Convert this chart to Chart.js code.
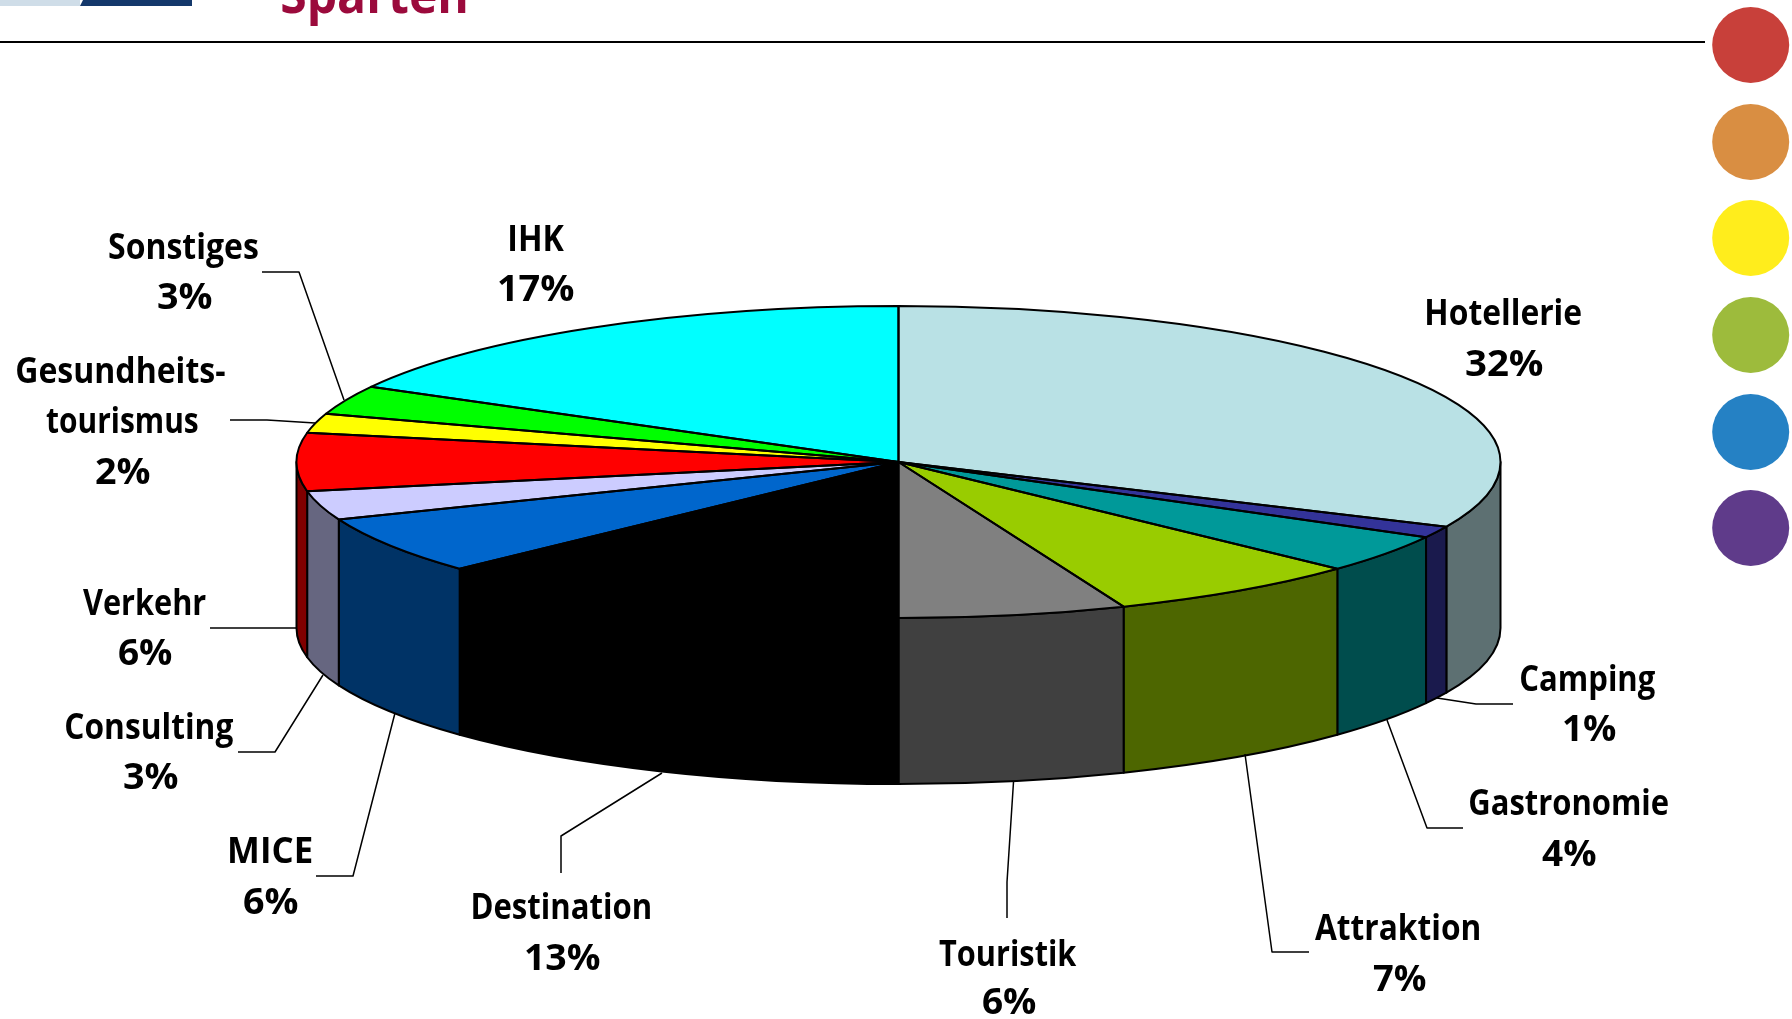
<!DOCTYPE html>
<html><head><meta charset="utf-8">
<style>html,body{margin:0;padding:0;background:#fff}canvas{display:block}</style>
<script src="https://cdn.jsdelivr.net/npm/chart.js@4"></script>
</head><body>
<canvas id="c" width="1792" height="1019"></canvas>
<script>
const categories = ['Hotellerie','Camping','Gastronomie','Attraktion','Touristik','Destination','MICE','Consulting','Verkehr','Gesundheitstourismus','Sonstiges','IHK'];
const shares = [31.8,1.2,4,6.9,6.1,13,6,3,6,2,3,17];
const labelLines = [['Hotellerie'],['Camping'],['Gastronomie'],['Attraktion'],['Touristik'],['Destination'],['MICE'],['Consulting'],['Verkehr'],['Gesundheits-','tourismus'],['Sonstiges'],['IHK']];
const topColors = ['#B9E1E5','#333399','#009999','#99CC00','#808080','#000000','#0066CC','#CCCCFF','#FF0000','#FFFF00','#00FF00','#00FFFF'];
const sideColors = ['#5D7072','#1A1A4D','#004D4D','#4D6600','#404040','#000000','#003366','#666680','#800000','#808000','#008000','#008080'];
const dotColors = ['#C8403A','#D98E42','#FFED1C','#9DBB3C','#2581C4','#5F3B8A'];
const dotCentersY = [45,142,238,335,432,528];
// [left,right,baseline] for each text line; the last line is the percentage
const labelBoxes = [
 [[1427,1581,325],[1466,1543,376]],
 [[1521,1655,691],[1564,1616,741]],
 [[1470,1668,815],[1542,1596,866]],
 [[1315,1479,940],[1373,1426,991]],
 [[939,1077,966],[983,1036,1014]],
 [[473,650,919],[526,600,970]],
 [[230,312,863],[244,298,914]],
 [[66,233,739],[124,178,789]],
 [[83,206,615],[119,172,665]],
 [[17,225,383],[46,198,433],[96,150,484]],
 [[109,258,259],[158,212,309]],
 [[510,564,251],[499,574,301]]
];
const leaders = [
 [[1513,704],[1476,704],[1437,698]],
 [[1463,828],[1427,828],[1387,720]],
 [[1309,952],[1272,952],[1245,754]],
 [[1007,918],[1007,882],[1013.5,782]],
 [[561,873],[561,836],[662,773]],
 [[316,876],[353,876],[395,713]],
 [[238,752],[275,752],[323,675]],
 [[210,628],[297,628]],
 [[230,420],[267,420],[315,423]],
 [[262,272],[299,272],[344,400]]
];
const tilt = 156/602, wallDepth = 166;
const labelFont = '700 36px "Open Sans"';

function arcs(chart){ return chart.getDatasetMeta(0).data; }

const pie3d = {
  id:'pie3d',
  beforeDatasetsDraw(chart){
    const ctx = chart.ctx;
    // page furniture
    ctx.save();
    ctx.fillStyle='#CFDDE8'; ctx.fillRect(0,0,80,6);
    ctx.fillStyle='#14386B';
    ctx.beginPath(); ctx.moveTo(83,0); ctx.lineTo(192,0); ctx.lineTo(192,6); ctx.lineTo(80,6); ctx.closePath(); ctx.fill();
    ctx.fillStyle='#9B0A3C'; ctx.font='700 52px "Open Sans"'; ctx.textBaseline='alphabetic';
    drawFit(ctx,'Sparten',282,466,13);
    ctx.fillStyle='#000'; ctx.fillRect(0,41,1705,2);
    dotColors.forEach((c,i)=>{ctx.fillStyle=c;ctx.beginPath();ctx.ellipse(1750.7,dotCentersY[i],38.5,38,0,0,Math.PI*2);ctx.fill();});
    // side wall
    ctx.lineWidth=2; ctx.strokeStyle='#000'; ctx.lineJoin='round';
    arcs(chart).forEach((a,i)=>{
      const s=Math.max(a.startAngle,0), e=Math.min(a.endAngle,Math.PI);
      if(e<=s) return;
      const rx=a.outerRadius, ry=rx*tilt;
      ctx.beginPath();
      ctx.ellipse(a.x,a.y,rx,ry,0,s,e,false);
      ctx.ellipse(a.x,a.y+wallDepth,rx,ry,0,e,s,true);
      ctx.closePath();
      ctx.fillStyle=sideColors[i]; ctx.fill(); ctx.stroke();
    });
    ctx.restore();
    // squash the library's own arcs into the tilted top face
    const first=arcs(chart)[0];
    ctx.save();
    ctx.translate(first.x,first.y); ctx.scale(1,tilt); ctx.translate(-first.x,-first.y);
  },
  afterDatasetsDraw(chart){
    const ctx=chart.ctx;
    ctx.restore();
    ctx.save();
    ctx.lineWidth=2; ctx.strokeStyle='#000'; ctx.lineJoin='round';
    arcs(chart).forEach(a=>{
      const rx=a.outerRadius, ry=rx*tilt;
      ctx.beginPath();
      ctx.moveTo(a.x,a.y);
      ctx.ellipse(a.x,a.y,rx,ry,0,a.startAngle,a.endAngle,false);
      ctx.closePath(); ctx.stroke();
    });
    // leader lines
    ctx.lineWidth=1.5;
    leaders.forEach(l=>{ctx.beginPath();l.forEach((p,i)=>i?ctx.lineTo(p[0],p[1]):ctx.moveTo(p[0],p[1]));ctx.stroke();});
    // labels
    ctx.fillStyle='#000'; ctx.font=labelFont; ctx.textBaseline='alphabetic';
    labelBoxes.forEach((boxes,i)=>{
      const lines=[...labelLines[i], Math.round(shares[i])+'%'];
      lines.forEach((t,j)=>drawFit(ctx,t,boxes[j][0],boxes[j][1],boxes[j][2]));
    });
    ctx.restore();
  }
};
function drawFit(ctx,text,l,r,base){
  const m=ctx.measureText(text);
  const inkL=-m.actualBoundingBoxLeft, inkW=m.actualBoundingBoxRight+m.actualBoundingBoxLeft;
  const k=(r-l)/inkW;
  ctx.save(); ctx.translate(l,base); ctx.scale(k,1); ctx.fillText(text,-inkL,0); ctx.restore();
}
new Chart(document.getElementById('c'),{
  type:'pie',
  data:{labels:categories,datasets:[{data:shares,backgroundColor:topColors,borderWidth:0,radius:602,clip:false}]},
  options:{responsive:false,animation:false,layout:{padding:{left:5,bottom:95}},
    plugins:{legend:{display:false},title:{display:false},tooltip:{enabled:false}},events:[]},
  plugins:[pie3d]
});
</script>
</body></html>
